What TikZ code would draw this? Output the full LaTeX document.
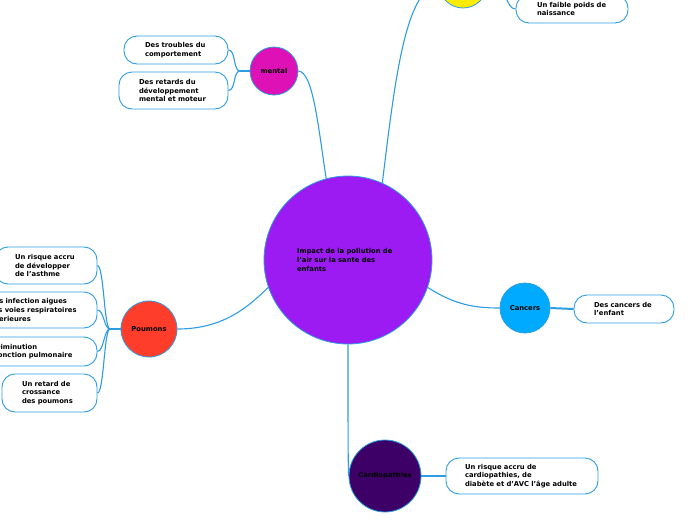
\documentclass[tikz,border=0pt]{standalone}
\usepackage{fontspec}
\setmainfont{DejaVu Sans}
\usetikzlibrary{calc}
\definecolor{conn}{RGB}{44,157,226}
\definecolor{cpurple}{RGB}{155,27,242}
\definecolor{cmag}{RGB}{221,17,181}
\definecolor{cred}{RGB}{255,61,42}
\definecolor{cblue}{RGB}{0,170,255}
\definecolor{cdark}{RGB}{61,0,102}
\definecolor{cyel}{RGB}{255,236,0}
\tikzset{
  txt/.style={font=\fontsize{6.8}{8.6}\selectfont\bfseries, text=black},
  topic/.style={circle, draw=conn, line width=0.8pt, inner sep=0pt, txt},
  leaf/.style={draw=conn, line width=0.9pt, fill=white, rounded corners=13pt, inner ysep=0pt, align=left, txt},
  link/.style={draw=conn, line width=1.1pt},
  stub/.style={draw=conn, line width=2pt},
}
\begin{document}
\begin{tikzpicture}[x=1pt,y=-1pt]
\useasboundingbox (0,0) rectangle (696,520);
\clip (0,0) rectangle (696,520);
% topics
\node[topic, fill=cpurple, minimum size=168pt, text width=102pt, align=left] (c) at (348,260) {Impact de la pollution de\\l'air sur la sante des\\enfants};
\node[topic, fill=cmag, minimum size=48pt] (m) at (274,71) {mental};
\node[topic, fill=cyel, minimum size=48pt] (y) at (463,-16) {};
\node[topic, fill=cred, minimum size=56pt] (p) at (149,329) {Poumons};
\node[topic, fill=cblue, minimum size=50pt] (k) at (525,308) {Cancers};
\node[topic, fill=cdark, minimum size=72pt] (d) at (385,476) {Cardiopathies};
% leaves
\node[leaf, minimum width=104pt, minimum height=28pt, text width=62pt, inner xsep=21pt] (m1) at (176,50) {Des troubles du\\comportement};
\node[leaf, minimum width=109pt, minimum height=37pt, text width=69pt, inner xsep=20pt] (m2) at (173.5,90.5) {Des retards du\\développement\\mental et moteur};
\node[leaf, minimum width=112pt, minimum height=28pt, text width=70pt, inner xsep=21pt] (y1) at (572,9) {Un faible poids de\\naissance};
\node[leaf, minimum width=102pt, minimum height=37pt, text width=62pt, inner xsep=20pt] (p1) at (46,265.5) {Un risque accru\\de développer\\de l'asthme};
\node[leaf, minimum width=128pt, minimum height=36pt, text width=88pt, inner xsep=20pt] (p2) at (33,310) {Des infection aigues\\des voies respiratoires\\inferieures};
\node[leaf, minimum width=122pt, minimum height=29pt, text width=82pt, inner xsep=20pt] (p3) at (36,351.5) {Diminution\\fonction pulmonaire};
\node[leaf, minimum width=95pt, minimum height=38pt, text width=55pt, inner xsep=20pt] (p4) at (49.5,393) {Un retard de\\crossance\\des poumons};
\node[leaf, minimum width=100pt, minimum height=28pt, text width=60pt, inner xsep=20pt] (k1) at (624,309) {Des cancers de\\l'enfant};
\node[leaf, minimum width=152pt, minimum height=36pt, text width=114pt, inner xsep=19pt] (d1) at (522,476) {Un risque accru de\\cardiopathies, de\\diabète et d'AVC l'âge adulte};
% junctions
\coordinate (mj) at (240,71);
\coordinate (pj) at (110,329);
% connectors from center
\begin{scope}[on background layer/.style={}]
\end{scope}
\draw[link] (c.105.7) .. controls (318,125) and (313,72) .. (m.east);
\draw[link] (c.66.9) .. controls (395,80) and (405,-10) .. (y.west);
\draw[link] (c.199.7) .. controls (250,305) and (225,329) .. (p.east);
\draw[link] (c.-19.3) .. controls (455,305) and (475,308) .. (k.west);
\draw[link] (c.south) .. controls (348,420) and (348,460) .. (d.west);
% mental leaves
\draw[stub] (m.west) -- (mj);
\draw[link] (mj) .. controls (233,71) and (236,50) .. (m1.east);
\draw[link] (mj) .. controls (233,71) and (236,90) .. (m2.east);
% yellow leaf
\draw[link] (y.east) .. controls (508,-16) and (505,9) .. (y1.west);
% poumons leaves
\draw[stub] (p.west) -- (pj);
\draw[link] (pj) .. controls (104,329) and (104,266) .. (p1.east);
\draw[link] (pj) .. controls (104,329) and (104,310) .. (p2.east);
\draw[link] (pj) .. controls (104,329) and (104,351) .. (p3.east);
\draw[link] (pj) .. controls (104,329) and (104,393) .. (p4.east);
% others
\draw[stub] (k.east) -- (k1.west);
\draw[stub, line width=2.5pt] (d.east) -- (d1.west);
\end{tikzpicture}
\end{document}
